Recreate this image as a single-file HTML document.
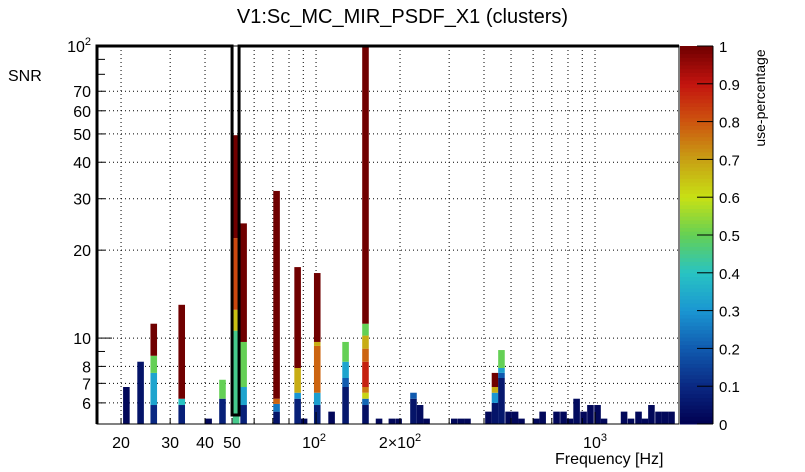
<!DOCTYPE html>
<html><head><meta charset="utf-8"><style>
body{margin:0;background:#fff;}
svg{display:block;font-family:"Liberation Sans",sans-serif;}
</style></head><body>
<svg id="c" width="805" height="472"></svg>
<script>
const freqs=[20.9,23.5,26.2,33.0,41.2,46.2,51.7,55.0,72.2,85.9,90.6,101,113.7,127.6,150.4,168.2,187,197.7,223.5,236,249,313,331,349,415,438,462,490,517,545,615,649,728,771,813,859,910,963,1021,1077,1271,1346,1432,1510,1593,1689,1782,1880];
// segments: [topSNR, use-percentage] stacked from bottom
const segments=[
[[6.8,0.02]],
[[8.3,0.05]],
[[5.9,0.1],[7.6,0.33],[8.7,0.5],[11.2,1.0]],
[[5.9,0.08],[6.2,0.4],[13.0,1.0]],
[[5.3,0.02]],
[[6.2,0.08],[7.2,0.5]],
[[10.6,0.45],[12.5,0.65],[22,0.82],[49.5,1.0]],
[[5.9,0.08],[6.8,0.33],[9.7,0.5],[24.7,1.0]],
[[5.6,0.05],[5.95,0.25],[6.2,0.78],[31.9,1.0]],
[[6.2,0.08],[6.5,0.3],[7.9,0.68],[17.5,1.0]],
[[5.3,0.02]],
[[5.9,0.08],[6.5,0.32],[9.4,0.78],[9.7,0.68],[16.7,1.0]],
[[5.6,0.02]],
[[6.8,0.06],[7.3,0.2],[8.3,0.33],[9.7,0.5]],
[[5.9,0.04],[6.2,0.22],[6.5,0.62],[6.8,0.75],[8.3,0.88],[9.2,0.78],[10.2,0.68],[11.2,0.5],[100,1.0]],
[[5.3,0.02]],
[[5.3,0.02]],
[[5.3,0.02]],
[[6.2,0.05],[6.5,0.2]],
[[5.9,0.03]],
[[5.3,0.02]],
[[5.3,0.02]],
[[5.3,0.02]],
[[5.3,0.02]],
[[5.6,0.02]],
[[6.0,0.05],[6.5,0.3],[6.8,0.68],[7.6,1.0]],
[[7.3,0.06],[7.6,0.2],[7.9,0.32],[9.1,0.5]],
[[5.6,0.02]],
[[5.6,0.02]],
[[5.3,0.02]],
[[5.3,0.02]],
[[5.6,0.02]],
[[5.6,0.02]],
[[5.6,0.02]],
[[5.3,0.02]],
[[6.2,0.03]],
[[5.6,0.02]],
[[5.9,0.02]],
[[5.9,0.02]],
[[5.3,0.02]],
[[5.6,0.02]],
[[5.3,0.02]],
[[5.6,0.02]],
[[5.3,0.02]],
[[5.9,0.02]],
[[5.6,0.02]],
[[5.6,0.02]],
[[5.6,0.02]]
];
const yTickVals=[6,7,8,10,20,30,40,50,60,70];
const xTickVals=[20,30,40,50];
const cbTicks=[0,0.1,0.2,0.3,0.4,0.5,0.6,0.7,0.8,0.9,1];

const NS="http://www.w3.org/2000/svg";
const svg=document.getElementById('c');
const L=97,R=679,T=46,B=424;
const xmin=16.4,xmax=2000,ymin=5.08,ymax=100;
const lx=Math.log10(xmin),lX=Math.log10(xmax),ly=Math.log10(ymin),lY=Math.log10(ymax);
function X(f){return L+(Math.log10(f)-lx)/(lX-lx)*(R-L);}
function Y(v){return B-(Math.log10(v)-ly)/(lY-ly)*(B-T);}
function el(t,a,p){const e=document.createElementNS(NS,t);for(const k in a)e.setAttribute(k,a[k]);(p||svg).appendChild(e);return e;}
const stops=[[0,[0,0,80]],[0.1,[10,40,130]],[0.2,[16,90,175]],[0.3,[26,150,210]],[0.4,[40,195,195]],[0.5,[100,208,85]],[0.6,[200,225,20]],[0.7,[200,160,20]],[0.8,[205,85,15]],[0.9,[195,20,15]],[1,[112,0,0]]];
function col(v){v=Math.max(0,Math.min(1,v));for(let i=1;i<stops.length;i++){if(v<=stops[i][0]){const a=stops[i-1],b=stops[i],t=(v-a[0])/(b[0]-a[0]);const c=a[1].map((x,j)=>Math.round(x+(b[1][j]-x)*t));return `rgb(${c})`;}}return 'rgb(112,0,0)';}

// grid
const grid=el('g',{});
const gx=[];for(let d=10;d<=1000;d*=10)for(let k=1;k<10;k++){const f=d*k;if(f>xmin&&f<xmax)gx.push(f);}
gx.forEach(f=>{el('line',{x1:X(f),x2:X(f),y1:T,y2:B,stroke:'#000','stroke-width':1,'stroke-dasharray':'1,3'},grid);});
yTickVals.forEach(v=>{el('line',{x1:L,x2:R,y1:Y(v),y2:Y(v),stroke:'#000','stroke-width':1,'stroke-dasharray':'1,3'},grid);});
// bars
const bars=el('g',{});
const bw=0.0236*(R-L)/(lX-lx);
freqs.forEach((f,i)=>{let lo=ymin;const g=el('g',{},bars);


segments[i].forEach(s=>{const y1=Y(s[0]),y0=Y(lo);el('rect',{x:X(f)-bw/2,y:y1,width:bw,height:Math.max(0,y0-y1),fill:col(s[1])},g);lo=s[0];});});
// frame
el('rect',{x:L,y:T,width:R-L,height:B-T,fill:'none',stroke:'#000','stroke-width':1});
const fr=el('polyline',{points:`${L},${B} ${L},${T} ${X(50)},${T} ${X(50)},415 ${X(50)+7},415 ${X(50)+7},${T} ${R},${T}`,fill:'none',stroke:'#000','stroke-width':3});

// y ticks
for(let d=1;d<=100;d*=10)for(let k=1;k<10;k++){const v=d*k;if(v>=ymin&&v<=ymax){const maj=(v===10||v===100);el('line',{x1:L,x2:L+(maj?15:8),y1:Y(v),y2:Y(v),stroke:'#000'});}}
const yl=el('g',{});
yTickVals.forEach(v=>{const t=el('text',{x:L-6,y:Y(v)+6,'text-anchor':'end','font-size':16},yl);t.textContent=v;});
let t=el('text',{x:L-6,y:Y(100)+6,'text-anchor':'end','font-size':16},yl);t.innerHTML='10<tspan dy="-7" font-size="11">2</tspan>';
// x ticks
gx.forEach(f=>{const maj=(f===100||f===1000);el('line',{x1:X(f),x2:X(f),y1:B,y2:B-(maj?12:6),stroke:'#000'});});
const xl=el('g',{});
xTickVals.forEach(f=>{const t=el('text',{x:X(f),y:448,'text-anchor':'middle','font-size':16},xl);t.textContent=f;});
t=el('text',{x:X(100)-2,y:448,'text-anchor':'middle','font-size':16},xl);t.innerHTML='10<tspan dy="-7" font-size="11">2</tspan>';
t=el('text',{x:X(200),y:448,'text-anchor':'middle','font-size':16},xl);t.innerHTML='2×10<tspan dy="-7" font-size="11">2</tspan>';
t=el('text',{x:X(1000),y:448,'text-anchor':'middle','font-size':16},xl);t.innerHTML='10<tspan dy="-7" font-size="11">3</tspan>';
// colorbar
const cb=el('g',{});
for(let i=0;i<100;i++){const y=B-(i+1)*(B-T)/100;el('rect',{x:680,y:y,width:33,height:(B-T)/100+0.5,fill:col((i+0.5)/100)},cb);}
el('line',{x1:713,x2:713,y1:T,y2:B,stroke:'#000'},cb);
cbTicks.forEach(v=>{const y=B-v*(B-T);el('line',{x1:697,x2:713,y1:y,y2:y,stroke:'#000'},cb);const tt=el('text',{x:719,y:y+6,'font-size':15},cb);tt.textContent=v;});
</script>
<div style="position:absolute;left:0;top:0;width:805px;height:472px;pointer-events:none;font-family:'Liberation Sans',sans-serif;">
<div style="position:absolute;left:0;width:805px;top:6px;text-align:center;font-size:20px;">V1:Sc_MC_MIR_PSDF_X1 (clusters)</div>
<div style="position:absolute;left:8px;top:68px;font-size:16px;">SNR</div>
<div style="position:absolute;left:555px;top:451px;font-size:16px;">Frequency [Hz]</div>
<div style="position:absolute;left:705px;top:90px;width:110px;font-size:14px;transform:rotate(-90deg);text-align:center;">use-percentage</div>
</div>
</body></html>
